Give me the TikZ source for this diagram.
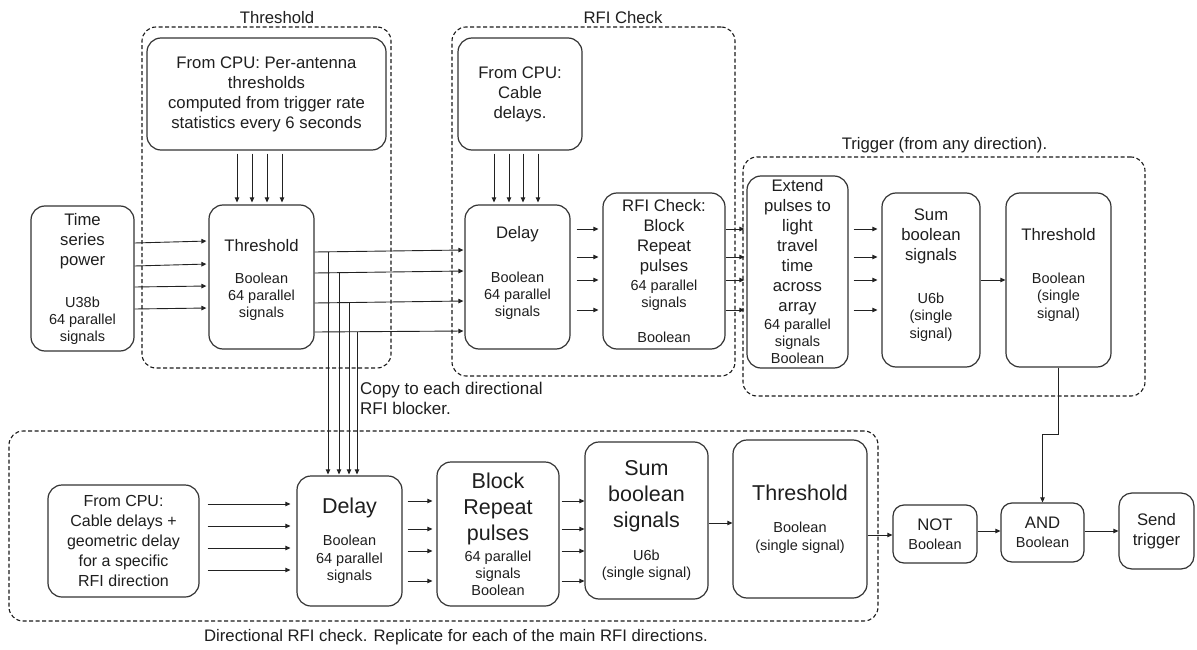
\documentclass[tikz,border=0pt]{standalone}
\usepackage{fontspec}
\setmainfont{Liberation Sans}
\usetikzlibrary{arrows.meta}
\definecolor{ink}{HTML}{1E1E1E}
\definecolor{edge}{HTML}{333333}
\definecolor{wire}{HTML}{222222}
\definecolor{grpline}{HTML}{1A1A1A}
\newcommand\fBig{\fontsize{16.7}{20}\selectfont}
\newcommand\fSm{\fontsize{14.5}{17}\selectfont}
\newcommand\fLarge{\fontsize{21.5}{26}\selectfont}
\begin{document}
\begin{tikzpicture}[x=1pt,y=-1pt,
  box/.style={draw=edge, line width=1.2pt, rounded corners=14pt, align=center,
    inner sep=0pt, text=ink, font=\fBig},
  bigbox/.style={box, font=\fLarge},
  grp/.style={draw=grpline, line width=1.1pt, dash pattern=on 4pt off 2.5pt,
    rounded corners=14pt, inner sep=0pt},
  ttl/.style={text=ink, font=\fBig, inner sep=0pt},
  wirearrow/.style={draw=wire, line width=0.9pt, -{Triangle[length=5pt,width=4.5pt]}},
  wireline/.style={draw=wire, line width=0.9pt}]
\useasboundingbox (0,0) rectangle (1197,650);

% dashed group frames and their captions
\node[grp, minimum width=249, minimum height=341] (gThr) at (266.5,197.5) {};
\node[grp, minimum width=283, minimum height=349] (gRfi) at (593.5,201.5) {};
\node[grp, minimum width=402, minimum height=239] (gTrig) at (944,276.5) {};
\node[grp, minimum width=869, minimum height=190] (gDir) at (443.5,526) {};
\node[ttl] (tThr) at (277,18) {Threshold};
\node[ttl] (tRfi) at (623,18) {RFI Check};
\node[ttl] (tTrig) at (944.5,145) {Trigger (from any direction).};
\node[ttl] (tDir) at (456,637) {Directional RFI check. Replicate for each of the main RFI directions.};
\node[ttl, font=\fontsize{17}{20}\selectfont, align=left, anchor=west] (tCopy) at (360,398)
  {Copy to each directional\\RFI blocker.};

% upper chain
\node[box, minimum width=103, minimum height=145] (ts) at (82.5,278.5)
  {Time\\series\\power\\[22pt]{\fSm U38b}\\[-3pt]{\fSm 64 parallel}\\[-3pt]{\fSm signals}};
\node[box, minimum width=239, minimum height=112] (cpu1) at (266.5,94)
  {From CPU: Per-antenna\\thresholds\\computed from trigger rate\\statistics every 6 seconds};
\node[box, minimum width=105, minimum height=144] (thr) at (261.5,277)
  {\mbox{}\\[-2pt]Threshold\\[11.5pt]{\fSm Boolean}\\[-3pt]{\fSm 64 parallel}\\[-3pt]{\fSm signals}};
\node[box, minimum width=124, minimum height=112] (cpu2) at (520,94)
  {From CPU:\\Cable\\delays.};
\node[box, minimum width=105, minimum height=144] (dly) at (517.5,277)
  {Delay\\[24pt]{\fSm Boolean}\\[-3pt]{\fSm 64 parallel}\\[-3pt]{\fSm signals}\\[-8pt]\mbox{}};
\node[box, minimum width=122, minimum height=156] (rfi) at (664,271)
  {RFI Check:\\Block\\Repeat\\pulses\\[-1pt]{\fSm 64 parallel}\\[-3pt]{\fSm signals}\\[15pt]{\fSm Boolean}};
\node[box, minimum width=101, minimum height=192] (ext) at (797.5,272)
  {Extend\\pulses to\\light\\travel\\time\\across\\array\\[-2pt]{\fSm 64 parallel}\\[-3pt]{\fSm signals}\\[-3pt]{\fSm Boolean}};
\node[box, minimum width=98, minimum height=174] (sum2) at (931,280)
  {Sum\\boolean\\signals\\[23pt]{\fSm U6b}\\[-3pt]{\fSm (single}\\[-2pt]{\fSm signal)}\\[-7pt]\mbox{}};
\node[box, minimum width=105, minimum height=174] (thr2) at (1058.5,280)
  {Threshold\\[23pt]{\fSm Boolean}\\[-3pt]{\fSm (single}\\[-2pt]{\fSm signal)}\\[-7pt]\mbox{}};

% lower (directional) chain
\node[box, font=\fontsize{16}{20}\selectfont, minimum width=151, minimum height=112] (cpu3) at (123.5,541)
  {From CPU:\\Cable delays +\\geometric delay\\for a specific\\RFI direction};
\node[bigbox, minimum width=105, minimum height=130] (dlyB) at (349.5,541)
  {Delay\\[6pt]{\fSm Boolean}\\[-8pt]{\fSm 64 parallel}\\[-9pt]{\fSm signals}};
\node[bigbox, minimum width=122, minimum height=144] (blk) at (498,534)
  {Block\\Repeat\\pulses\\[-5pt]{\fSm 64 parallel}\\[-9pt]{\fSm signals}\\[-9pt]{\fSm Boolean}};
\node[bigbox, minimum width=123, minimum height=157] (sum3) at (646.5,520.5)
  {Sum\\boolean\\signals\\[7pt]{\fSm U6b}\\[-9pt]{\fSm (single signal)}};
\node[bigbox, minimum width=134, minimum height=158] (thr3) at (800,519)
  {Threshold\\[6pt]{\fSm Boolean}\\[-8pt]{\fSm (single signal)}};

% final logic
\node[box, rounded corners=11pt, minimum width=84, minimum height=58] (not) at (935,534)
  {NOT\\[-1.5pt]{\fSm Boolean}};
\node[box, rounded corners=11pt, minimum width=83, minimum height=59] (and) at (1042.5,532.5)
  {AND\\[-1.5pt]{\fSm Boolean}};
\node[box, rounded corners=13pt, minimum width=75, minimum height=76] (send) at (1156.5,531)
  {Send\\trigger};

% per-antenna thresholds and cable delays fed down from the CPU
\foreach \x in {237,252,267,282}
  \draw[wirearrow, shorten <=3pt, shorten >=2pt] (cpu1.south -| \x,0) -- (thr.north -| \x,0);
\foreach \x in {494,509,523,538}
  \draw[wirearrow, shorten <=3pt, shorten >=2pt] (cpu2.south -| \x,0) -- (dly.north -| \x,0);

% time series into threshold
\foreach \a/\b in {243/241,266/264,287/286,309/308}
  \draw[wirearrow, shorten >=2pt] (ts.east |- 0,\a) -- (thr.west |- 0,\b);

% threshold outputs into delay, each copied down to the directional delay
\foreach \a/\b/\x in {252/250/328,273/271/339,303/301/349,332/331/357}{
  \draw[wirearrow, shorten >=1pt] (thr.east |- 0,\a) -- (dly.west |- 0,\b);
  \coordinate (br\x) at (\x,\a);
  \draw[wirearrow, shorten >=1pt] (br\x) -- (dlyB.north -| \x,0);
}

% delay -> RFI block -> extend -> sum -> threshold
\foreach \y in {229,257,280,310}{
  \draw[wirearrow, shorten <=6pt, shorten >=4pt] (dly.east |- 0,\y) -- (rfi.west |- 0,\y);
  \draw[wirearrow, shorten >=2pt] (rfi.east |- 0,\y) -- (ext.west |- 0,\y);
  \draw[wirearrow, shorten <=5pt, shorten >=4pt] (ext.east |- 0,\y) -- (sum2.west |- 0,\y);
}
\draw[wirearrow] (sum2.east |- 0,280) -- (thr2.west |- 0,280);
\draw[wirearrow] (thr2.south) -- (thr2.south |- 0,434) -| (and.north);

% directional chain
\foreach \y in {504,526,548,570}
  \draw[wirearrow, shorten <=8pt, shorten >=6pt] (cpu3.east |- 0,\y) -- (dlyB.west |- 0,\y);
\foreach \y in {501,529,551,581}{
  \draw[wirearrow, shorten <=5pt, shorten >=4pt] (dlyB.east |- 0,\y) -- (blk.west |- 0,\y);
  \draw[wirearrow, shorten <=2pt] (blk.east |- 0,\y) -- (sum3.west |- 0,\y);
}
\draw[wirearrow] (sum3.east |- 0,523) -- (thr3.west |- 0,523);
\draw[wirearrow] (thr3.east |- 0,535) -- (not.west |- 0,535);
\draw[wirearrow] (not.east |- 0,531) -- (and.west |- 0,531);
\draw[wirearrow] (and.east |- 0,531) -- (send.west |- 0,531);
\end{tikzpicture}
\end{document}
